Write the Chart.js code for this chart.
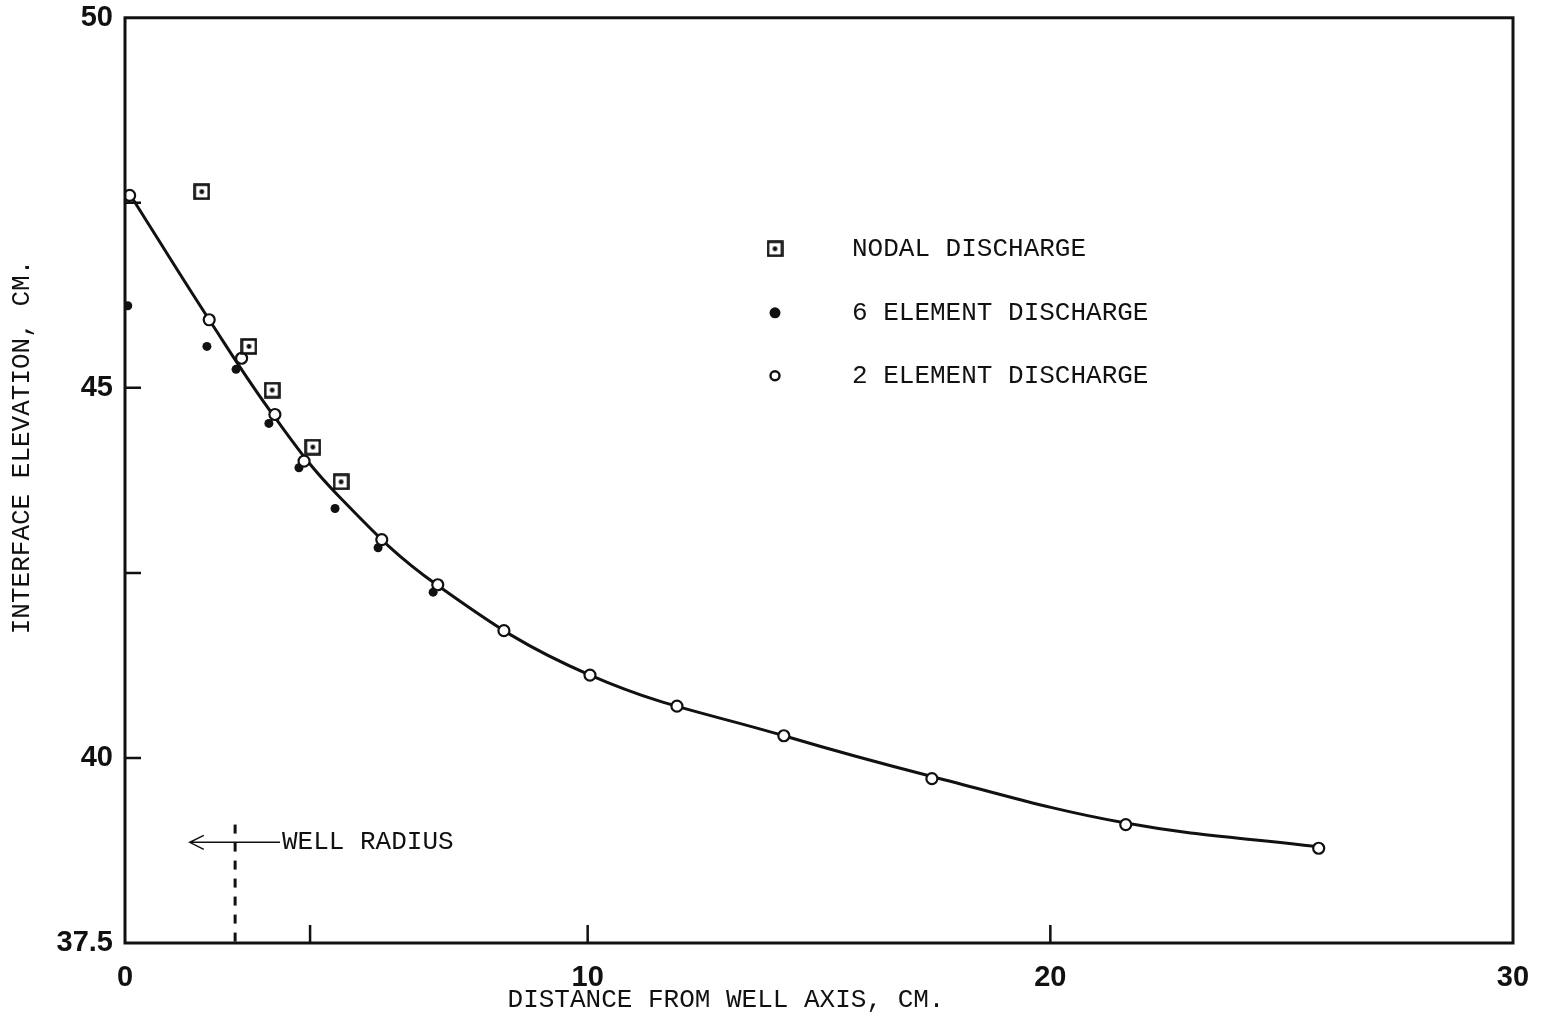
<!DOCTYPE html>
<html>
<head>
<meta charset="utf-8">
<script src="https://cdn.jsdelivr.net/npm/chart.js@4/dist/chart.umd.min.js"></script>
<style>
  body { margin: 0; background: #fff; }
  #wrap { width: 1541px; height: 1020px; }
</style>
</head>
<body>
<div id="wrap"><canvas id="chart" width="1541" height="1020"></canvas></div>
<script>
// values (x = distance from well axis, y = interface elevation, cm)
const twoElemX = [0.1, 1.82, 2.52, 3.24, 3.87, 5.55, 6.76, 8.19, 10.05, 11.93, 14.24, 17.44, 21.63, 25.8];
const twoElemY = [47.6, 45.92, 45.4, 44.64, 44.01, 42.95, 42.34, 41.72, 41.12, 40.7, 40.3, 39.72, 39.1, 38.78];

const sixElemX = [0.06, 1.77, 2.4, 3.11, 3.76, 4.54, 5.47, 6.66];
const sixElemY = [46.11, 45.56, 45.25, 44.52, 43.92, 43.37, 42.84, 42.24];

const nodalX = [1.66, 2.68, 3.18, 4.06, 4.67];
const nodalY = [47.65, 45.56, 44.97, 44.2, 43.73];

// fitted curve
const curveX = [0.1, 1.82, 3.24, 4.6, 6.76, 10.05, 14.24, 17.44, 21.63, 25.8];
const curveY = [47.62, 45.92, 44.6, 43.55, 42.33, 41.12, 40.3, 39.75, 39.12, 38.8];

// well radius marker
const wellX = [2.38, 2.38];
const wellY = [39.1, 37.5];
const arrowX = [1.4, 3.35];
const arrowY = 38.86;

const xTickLabels = [0, 10, 20, 30];
const yTickLabels = [50, 45, 40, 37.5];
const xTickMarks = [4, 10, 20];
const yTickMarks = [47.5, 45, 42.5, 40];

const xTitle = "DISTANCE FROM WELL AXIS, CM.";
const yTitle = "INTERFACE ELEVATION, CM.";
const legendLabels = ["NODAL DISCHARGE", "6 ELEMENT DISCHARGE", "2 ELEMENT DISCHARGE"];

const INK = "#111";
const MONO = "'Liberation Mono', 'DejaVu Sans Mono', monospace";

const toPoints = (xs, ys) => xs.map((x, i) => ({ x: x, y: ys[i] }));

// square-with-dot marker for nodal discharge
function nodalMarker(size) {
  const c = document.createElement("canvas");
  c.width = size; c.height = size;
  const g = c.getContext("2d");
  g.strokeStyle = INK;
  g.lineWidth = 2.6;
  g.fillStyle = "#fff";
  g.fillRect(1.5, 1.5, size - 3, size - 3);
  g.strokeRect(1.5, 1.5, size - 3, size - 3);
  g.fillStyle = INK;
  g.beginPath();
  g.arc(size / 2, size / 2, 2.4, 0, Math.PI * 2);
  g.fill();
  return c;
}
const nodalImg = nodalMarker(17);

const framePlugin = {
  id: "frame",
  afterDraw(chart) {
    const { ctx, chartArea: a, scales: { x, y } } = chart;
    ctx.save();
    ctx.strokeStyle = INK;
    ctx.lineWidth = 3;
    ctx.strokeRect(a.left, a.top, a.right - a.left, a.bottom - a.top);

    // inward tick marks
    ctx.lineWidth = 2.5;
    ctx.beginPath();
    xTickMarks.forEach(v => {
      const px = x.getPixelForValue(v);
      ctx.moveTo(px, a.bottom);
      ctx.lineTo(px, a.bottom - 18);
    });
    yTickMarks.forEach(v => {
      const py = y.getPixelForValue(v);
      ctx.moveTo(a.left, py);
      ctx.lineTo(a.left + 16, py);
    });
    ctx.stroke();

    // well radius arrow
    const ay = y.getPixelForValue(arrowY);
    const ax0 = x.getPixelForValue(arrowX[0]);
    const ax1 = x.getPixelForValue(arrowX[1]);
    ctx.lineWidth = 1.5;
    ctx.beginPath();
    ctx.moveTo(ax0, ay);
    ctx.lineTo(ax1, ay);
    ctx.moveTo(ax0 + 14, ay - 7);
    ctx.lineTo(ax0, ay);
    ctx.lineTo(ax0 + 14, ay + 7);
    ctx.stroke();
    ctx.fillStyle = INK;
    ctx.font = "26px " + MONO;
    ctx.textBaseline = "middle";
    ctx.textAlign = "left";
    ctx.fillText("WELL RADIUS", ax1 + 2, ay);

    // legend
    const lx = a.left + 650;
    const tx = a.left + 727;
    const rows = [a.top + 231, a.top + 295, a.top + 358];
    rows.forEach((ry, i) => {
      if (i === 0) {
        ctx.drawImage(nodalImg, lx - 8.5, ry - 8.5);
      } else if (i === 1) {
        ctx.beginPath();
        ctx.arc(lx, ry, 5.5, 0, Math.PI * 2);
        ctx.fill();
      } else {
        ctx.beginPath();
        ctx.lineWidth = 2.4;
        ctx.arc(lx, ry, 4.5, 0, Math.PI * 2);
        ctx.stroke();
      }
      ctx.fillText(legendLabels[i], tx, ry);
    });

    // axis titles (placed as in the original, a little off the plot centre)
    ctx.textAlign = "center";
    ctx.fillText(xTitle, 726, 1000);
    ctx.translate(22, 447);
    ctx.rotate(-Math.PI / 2);
    ctx.fillText(yTitle, 0, 0);
    ctx.restore();
  }
};

new Chart(document.getElementById("chart"), {
  type: "scatter",
  data: {
    datasets: [
      {
        label: "2 ELEMENT DISCHARGE",
        data: toPoints(twoElemX, twoElemY),
        pointStyle: "circle",
        pointRadius: 5.5,
        pointBorderWidth: 2.2,
        pointBorderColor: INK,
        pointBackgroundColor: "#fff",
        order: 1
      },
      {
        label: "6 ELEMENT DISCHARGE",
        data: toPoints(sixElemX, sixElemY),
        pointStyle: "circle",
        pointRadius: 4.5,
        pointBorderWidth: 0,
        pointBackgroundColor: INK,
        order: 2
      },
      {
        label: "NODAL DISCHARGE",
        data: toPoints(nodalX, nodalY),
        pointStyle: nodalImg,
        order: 0
      },
      {
        label: "curve",
        type: "line",
        data: toPoints(curveX, curveY),
        borderColor: INK,
        borderWidth: 3,
        pointRadius: 0,
        tension: 0.4,
        fill: false,
        order: 3
      },
      {
        label: "well radius",
        type: "line",
        data: toPoints(wellX, wellY),
        borderColor: INK,
        borderWidth: 3,
        borderDash: [9, 9],
        pointRadius: 0,
        fill: false,
        order: 4
      }
    ]
  },
  options: {
    responsive: false,
    animation: false,
    layout: { padding: { top: 0, right: 28, left: 0, bottom: 0 } },
    plugins: {
      legend: { display: false },
      tooltip: { enabled: false }
    },
    scales: {
      x: {
        type: "linear",
        min: 0,
        max: 30,
        afterFit(scale) { scale.height = 77; },
        afterBuildTicks(scale) { scale.ticks = xTickLabels.map(v => ({ value: v })); },
        grid: { display: false },
        border: { display: false },
        ticks: {
          padding: 10,
          color: INK,
          maxRotation: 0,
          font: { family: "'Liberation Sans', Arial, sans-serif", size: 29, weight: "bold" }
        }
      },
      y: {
        type: "linear",
        min: 37.5,
        max: 50,
        afterFit(scale) { scale.width = 125; },
        afterBuildTicks(scale) { scale.ticks = yTickLabels.map(v => ({ value: v })); },
        grid: { display: false },
        border: { display: false },
        ticks: {
          padding: 4,
          color: INK,
          callback: v => String(v),
          font: { family: "'Liberation Sans', Arial, sans-serif", size: 29, weight: "bold", lineHeight: 0.95 }
        }
      }
    }
  },
  plugins: [framePlugin]
});
</script>
</body>
</html>
